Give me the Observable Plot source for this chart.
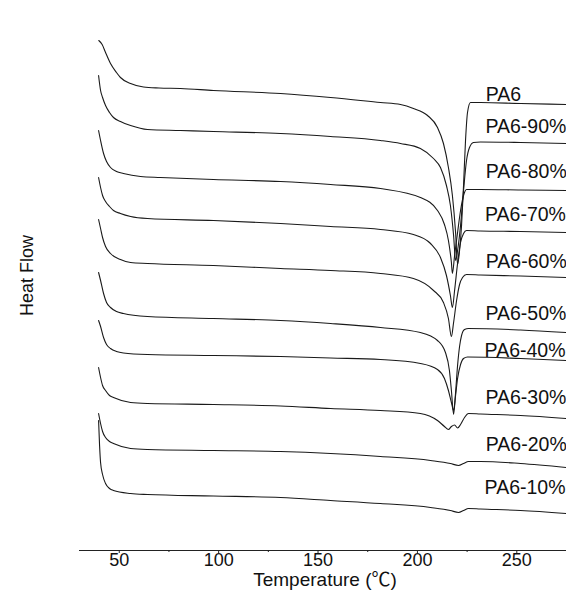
<!DOCTYPE html>
<html>
<head>
<meta charset="utf-8">
<script src="https://cdn.jsdelivr.net/npm/d3@7"></script>
<script src="https://cdn.jsdelivr.net/npm/@observablehq/plot@0.6"></script>
<style>
  html, body { margin: 0; padding: 0; background: #fff; }
  #chart { width: 566px; height: 610px; overflow: hidden; }
</style>
</head>
<body>
<div id="chart"></div>
<script>
// Series names (top to bottom)
const seriesNames = ["PA6", "PA6-90%", "PA6-80%", "PA6-70%", "PA6-60%", "PA6-50%", "PA6-40%", "PA6-30%", "PA6-20%", "PA6-10%"];

// Each curve: [temperature °C, heat flow (arbitrary units, stacked offset)]
const PA6 = [[39.7,51.0],[41.4,50.6],[43.1,49.8],[45.6,48.7],[48.6,47.8],[50.6,47.3],[55.7,46.7],[62.2,46.35],[70.0,46.25],[80.8,46.2],[97.4,46.0],[131.1,45.7],[156.3,45.3],[181.4,44.8],[191.5,44.6],[198.0,44.2],[205.1,43.5],[210.1,42.3],[213.1,40.7],[215.6,38.3],[217.6,35.5],[219.2,31.8],[220.2,28.6],[221.2,30.0],[222.2,32.5],[223.2,36.5],[224.2,41.0],[225.2,43.8],[226.7,44.8],[231.7,44.8],[251.9,44.7],[275,44.6]];
const PA6_90 = [[39.6,47.5],[40.6,46.0],[41.6,45.3],[43.1,44.5],[45.1,43.8],[47.1,43.3],[50.6,42.9],[55.7,42.5],[64.2,42.1],[80.8,42.0],[97.4,41.9],[131.1,41.7],[156.3,41.4],[181.4,41.0],[191.5,40.7],[201.5,40.2],[208.1,39.2],[211.6,38.3],[214.6,36.5],[216.6,34.5],[218.2,31.5],[219.2,29.0],[220.2,30.0],[221.7,32.5],[223.2,36.0],[224.7,39.0],[226.2,40.3],[228.2,40.8],[231.7,40.85],[251.9,40.8],[275,40.7]];
const PA6_80 = [[39.6,42.0],[40.6,41.0],[42.1,39.7],[43.6,38.9],[45.6,38.3],[48.6,37.9],[52.1,37.7],[60.7,37.4],[70.7,37.3],[97.4,37.1],[131.1,36.9],[156.3,36.6],[181.4,36.2],[201.5,35.3],[210.1,34.0],[213.6,32.6],[215.6,31.0],[217.1,28.8],[217.6,27.7],[218.7,29.5],[220.2,31.8],[221.7,34.0],[223.2,35.5],[224.7,36.1],[231.7,36.1],[251.9,36.05],[275,36.0]];
const PA6_70 = [[39.6,37.3],[40.6,36.3],[41.6,35.5],[43.1,34.9],[45.1,34.4],[47.1,34.0],[50.6,33.7],[55.7,33.4],[64.2,33.2],[97.4,33.0],[131.1,32.7],[156.3,32.4],[181.4,32.1],[198.0,31.6],[206.6,30.7],[211.6,29.3],[214.6,27.5],[216.6,25.5],[217.6,24.3],[218.7,26.0],[220.2,28.7],[221.7,30.8],[223.2,31.7],[224.7,32.0],[231.7,31.95],[251.9,31.9],[275,31.8]];
const PA6_60 = [[39.6,33.1],[40.6,32.2],[41.6,31.3],[43.1,30.4],[45.6,29.7],[50.6,29.1],[55.7,28.8],[64.2,28.7],[97.4,28.5],[131.1,28.2],[156.3,28.0],[181.4,27.7],[198.0,27.2],[208.1,26.0],[213.1,24.8],[215.6,23.2],[217.1,21.4],[218.2,22.8],[219.7,25.0],[221.2,26.6],[222.7,27.3],[224.7,27.6],[231.7,27.55],[251.9,27.45],[275,27.3]];
const PA6_50 = [[39.6,27.8],[40.6,27.0],[42.1,25.7],[43.6,24.8],[45.6,24.3],[48.6,23.9],[52.1,23.7],[64.2,23.4],[97.4,23.2],[131.1,23.0],[156.3,22.7],[181.4,22.3],[201.5,21.8],[210.1,21.0],[214.1,19.8],[216.1,18.0],[217.1,16.0],[218.2,13.6],[219.2,15.8],[220.2,18.5],[221.2,20.4],[222.2,21.5],[223.7,22.1],[225.7,22.2],[251.9,22.05],[275,21.8]];
const PA6_40 = [[39.6,23.0],[40.6,22.4],[42.1,21.3],[43.6,20.6],[45.6,20.2],[48.6,19.9],[52.1,19.75],[64.2,19.6],[97.4,19.5],[131.1,19.4],[156.3,19.25],[181.4,19.1],[201.5,18.7],[210.1,18.1],[213.6,17.2],[215.6,16.0],[217.1,14.8],[218.2,14.0],[219.2,15.5],[220.2,17.2],[221.7,18.6],[223.2,19.2],[225.2,19.35],[251.9,19.2],[275,19.0]];
const PA6_30 = [[39.6,18.3],[40.6,17.3],[41.6,16.5],[43.1,16.0],[45.1,15.5],[47.1,15.3],[55.7,14.8],[64.2,14.7],[97.4,14.6],[131.1,14.45],[156.3,14.2],[181.4,14.0],[201.5,13.7],[210.1,13.0],[213.6,12.4],[215.6,12.1],[217.1,12.4],[218.7,12.55],[220.2,12.25],[221.7,12.6],[223.7,13.3],[225.7,13.7],[231.7,13.65],[251.9,13.5],[275,13.2]];
const PA6_20 = [[39.6,13.7],[40.6,12.7],[41.6,11.9],[43.1,11.3],[45.1,10.9],[47.1,10.7],[55.7,10.2],[64.2,10.1],[97.4,10.0],[131.1,9.9],[156.3,9.7],[181.4,9.4],[206.6,9.0],[216.6,8.7],[220.7,8.5],[223.2,8.7],[225.7,8.9],[231.7,8.9],[251.9,8.7],[275,8.3]];
const PA6_10 = [[39.6,13.0],[40.1,10.5],[40.6,8.8],[41.6,7.6],[43.1,6.7],[45.1,6.2],[47.1,6.0],[55.7,5.7],[64.2,5.6],[97.4,5.45],[131.1,5.3],[156.3,5.0],[181.4,4.7],[206.6,4.3],[216.6,4.0],[220.7,3.8],[223.2,4.0],[225.7,4.2],[231.7,4.15],[251.9,4.0],[275,3.7]];

const curves = [PA6, PA6_90, PA6_80, PA6_70, PA6_60, PA6_50, PA6_40, PA6_30, PA6_20, PA6_10];

// Label anchors (temperature, heat flow) for each series name
const labelTemp = [234.4, 234.2, 234.4, 234.0, 234.4, 234.2, 233.8, 234.2, 234.4, 233.8];
const labelHeat = [45.0, 41.8, 37.3, 33.0, 28.3, 23.1, 19.4, 14.7, 10.0, 5.7];

// Axis ticks
const majorTicks = [50, 100, 150, 200, 250];
const minorTicks = [75, 125, 175, 225, 275];

const data = seriesNames.flatMap((s, i) => curves[i].map(([T, H]) => ({series: s, T, H})));
const labels = seriesNames.map((s, i) => ({text: s, T: labelTemp[i], H: labelHeat[i]}));

const font = "'Liberation Sans', Arial, 'Noto Sans CJK SC', sans-serif";

const chart = Plot.plot({
  width: 566,
  height: 610,
  marginLeft: 79,
  marginRight: 0,
  marginTop: 30,
  marginBottom: 60,
  style: {fontFamily: font, background: "#fff", color: "#111"},
  x: {domain: [30, 275]},
  y: {domain: [0, 52]},
  marks: [
    Plot.ruleY([0], {stroke: "#222", strokeWidth: 1}),
    Plot.axisX({ticks: majorTicks, tickSize: 3, tickPadding: 0, fontSize: 18, label: null, stroke: "#222"}),
    Plot.axisX({ticks: minorTicks, tickSize: 2, tickFormat: () => "", label: null, stroke: "#222"}),
    Plot.axisY({ticks: [], label: null}),
    Plot.line(data, {x: "T", y: "H", z: "series", stroke: "#1a1a1a", strokeWidth: 1.1, curve: "monotone-x"}),
    Plot.text(labels, {x: "T", y: "H", text: "text", textAnchor: "start", lineAnchor: "bottom", fontSize: 19.5, fill: "#111"}),
    Plot.text(["Temperature (\u2103)"], {frameAnchor: "bottom", textAnchor: "middle", lineAnchor: "bottom", dy: 35, dx: 2, fontSize: 19, fill: "#111"}),
    Plot.text(["Heat Flow"], {frameAnchor: "left", textAnchor: "middle", lineAnchor: "bottom", rotate: -90, dx: -47, dy: -15, fontSize: 18, fill: "#111"})
  ]
});
document.getElementById("chart").appendChild(chart);
</script>
</body>
</html>
